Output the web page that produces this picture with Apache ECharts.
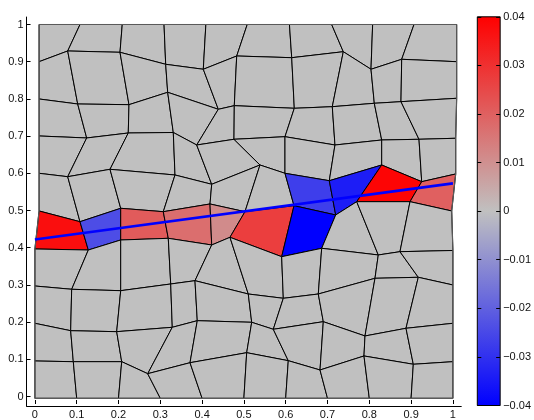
<!DOCTYPE html>
<html><head><meta charset="utf-8">
<script src="https://cdn.jsdelivr.net/npm/echarts@6/dist/echarts.min.js"></script>
<style>html,body{margin:0;padding:0;background:#fff}#c{width:534px;height:420px}</style>
</head><body><div id="c"></div>
<script>
// ---- data ----
const axisTicks = [0, 0.1, 0.2, 0.3, 0.4, 0.5, 0.6, 0.7, 0.8, 0.9, 1];
const colorbarTicks = [-0.04, -0.03, -0.02, -0.01, 0, 0.01, 0.02, 0.03, 0.04];
// mesh node coordinates, rows top -> bottom, columns left -> right
const nodeX = [
 [0.010,0.108,0.209,0.309,0.409,0.508,0.609,0.710,0.808,0.907,1.009],
 [0.010,0.0785,0.2036,0.3129,0.4029,0.4828,0.6144,0.7378,0.8041,0.8775,1.009],
 [0.010,0.1024,0.2251,0.3177,0.4388,0.4770,0.6206,0.7115,0.8120,0.8758,1.009],
 [0.010,0.1239,0.2234,0.3311,0.3871,0.4763,0.5983,0.7179,0.8297,0.9189,1.0067],
 [0.010,0.0785,0.1797,0.3352,0.4230,0.5385,0.5983,0.7043,0.8297,0.9254,1.0067],
 [0.010,0.1079,0.2053,0.3072,0.4189,0.5026,0.6199,0.7196,0.7699,0.8974,0.9971],
 [0,0.1278,0.2053,0.3191,0.4230,0.4667,0.5904,0.6861,0.8215,0.8734,1],
 [0,0.0880,0.2053,0.3249,0.3830,0.5105,0.5943,0.6780,0.8136,0.9172,1],
 [0,0.0856,0.1957,0.3287,0.3885,0.5187,0.5703,0.6900,0.7897,0.8878,1],
 [0,0.0919,0.2077,0.2699,0.3711,0.5067,0.6062,0.6821,0.7873,0.9053,1],
 [0,0.1,0.2,0.3,0.4,0.5,0.6,0.7,0.8,0.9,1]
];
const nodeY = [
 [1,1,1,1,1,1,1,1,1,1,1],
 [0.9005,0.9291,0.9256,0.8935,0.8802,0.9157,0.9112,0.9272,0.8802,0.9069,0.9005],
 [0.8007,0.7873,0.7855,0.8186,0.7731,0.7828,0.7758,0.7801,0.7892,0.7935,0.8026],
 [0.7017,0.6964,0.7097,0.7111,0.6776,0.6929,0.6998,0.6776,0.6910,0.6929,0.6956],
 [0.6019,0.5928,0.6126,0.5974,0.5725,0.6241,0.6019,0.5821,0.6241,0.5795,0.6001],
 [0.5011,0.4724,0.5083,0.4992,0.5198,0.4992,0.5152,0.4904,0.5260,0.5260,0.5011],
 [0.3994,0.3967,0.4235,0.4280,0.4101,0.4307,0.3788,0.4013,0.3834,0.3922,0.3954],
 [0.3004,0.2916,0.2879,0.3058,0.3146,0.2790,0.2675,0.2790,0.3210,0.3237,0.3031],
 [0.2006,0.1808,0.1782,0.1899,0.2076,0.2033,0.1846,0.2049,0.1667,0.1873,0.2006],
 [0.0998,0.0979,0.0979,0.0658,0.0952,0.1220,0.1006,0.0757,0.1132,0.0910,0.0979],
 [0,0,0,0,0,0,0,0,0,0,0]
];
// cell values, rows top -> bottom
const cellValues = [
 [0,0,0,0,0,0,0,0,0,0],
 [0,0,0,0,0,0,0,0,0,0],
 [0,0,0,0,0,0,0,0,0,0],
 [0,0,0,0,0,0,0,0,0,0],
 [0,0,0,0,0,0,-0.027,-0.034,0.039,0.020],
 [0.037,-0.024,0.021,0.017,0.011,0.027,-0.040,0,0,0],
 [0,0,0,0,0,0,0,0,0,0],
 [0,0,0,0,0,0,0,0,0,0],
 [0,0,0,0,0,0,0,0,0,0],
 [0,0,0,0,0,0,0,0,0,0]
];
const lineX = [0, 1];
const lineY = [0.425, 0.575];
const colorMin = -0.04, colorMax = 0.04;
const colorStops = ['#0000ff', '#c0c0c0', '#ff0000'];

// ---- build ----
const cells = [];
for (let j = 0; j < cellValues.length; j++)
  for (let i = 0; i < cellValues[j].length; i++) cells.push([i, j, cellValues[j][i]]);

const nR = nodeX.length, nC = nodeX[0].length;
const boundary = [];
for (let c = 0; c < nC; c++) boundary.push([nodeX[0][c], nodeY[0][c]]);
for (let r = 1; r < nR; r++) boundary.push([nodeX[r][nC-1], nodeY[r][nC-1]]);
for (let c = nC - 2; c >= 0; c--) boundary.push([nodeX[nR-1][c], nodeY[nR-1][c]]);
for (let r = nR - 2; r >= 0; r--) boundary.push([nodeX[r][0], nodeY[r][0]]);

const font = {fontFamily: 'Liberation Sans, Arial, sans-serif', fontSize: 11, color: '#111'};
const fmtAxis = v => String(+v.toFixed(1));
const fmtCb = v => Math.abs(v) < 1e-9 ? '0' : (v < 0 ? '\u2212' : '') + Math.abs(v).toFixed(2);

const chart = echarts.init(document.getElementById('c'), null, {renderer: 'canvas'});
chart.setOption({
  animation: false,
  grid: [
    {left: 26.54, top: 17.02, width: 434.72, height: 388.75},
    {left: 34.9, top: 24.5, width: 418, height: 373.8},
    {left: 477.3, top: 16.8, width: 24, height: 388.7}
  ],
  xAxis: [
    {gridIndex: 0, type: 'value', min: -0.02, max: 1.02, axisLine: {show: true, onZero: false, lineStyle: {color: '#000', width: 1}},
     axisTick: {show: false}, axisLabel: {show: false}, splitLine: {show: false}},
    {gridIndex: 1, type: 'value', min: 0, max: 1, interval: 0.1, offset: 7.47,
     axisLine: {show: false, onZero: false}, axisTick: {show: true, inside: true, length: 4, lineStyle: {color: '#000'}},
     axisLabel: Object.assign({margin: 5, formatter: fmtAxis}, font), splitLine: {show: false}},
    {gridIndex: 2, type: 'value', min: 0, max: 1, show: false}
  ],
  yAxis: [
    {gridIndex: 0, type: 'value', min: -0.02, max: 1.02, axisLine: {show: true, onZero: false, lineStyle: {color: '#000', width: 1}},
     axisTick: {show: false}, axisLabel: {show: false}, splitLine: {show: false}},
    {gridIndex: 1, type: 'value', min: 0, max: 1, interval: 0.1, offset: 8.36,
     axisLine: {show: false, onZero: false}, axisTick: {show: true, inside: true, length: 4, lineStyle: {color: '#000'}},
     axisLabel: Object.assign({margin: 3, formatter: fmtAxis}, font), splitLine: {show: false}},
    {gridIndex: 2, type: 'value', position: 'left', min: colorMin, max: colorMax, interval: 0.01, z: 10,
     axisLine: {show: false}, axisTick: {show: true, inside: true, length: 4, lineStyle: {color: '#000'}},
     axisLabel: {show: false}, splitLine: {show: false}},
    {gridIndex: 2, type: 'value', position: 'right', min: colorMin, max: colorMax, interval: 0.01, z: 10,
     axisLine: {show: false}, axisTick: {show: true, inside: true, length: 4, lineStyle: {color: '#000'}},
     axisLabel: Object.assign({margin: 3, formatter: fmtCb}, font), splitLine: {show: false}}
  ],
  visualMap: {
    type: 'continuous', show: false, min: colorMin, max: colorMax, dimension: 2, seriesIndex: 0,
    inRange: {color: colorStops}
  },
  series: [
    {
      type: 'custom', xAxisIndex: 0, yAxisIndex: 0, data: cells, z: 2,
      renderItem: function (params, api) {
        const i = api.value(0), j = api.value(1);
        const pts = [[j, i], [j, i + 1], [j + 1, i + 1], [j + 1, i]]
          .map(rc => api.coord([nodeX[rc[0]][rc[1]], nodeY[rc[0]][rc[1]]]));
        return {type: 'polygon', shape: {points: pts},
          style: {fill: api.visual('color'), stroke: '#000', lineWidth: 1, lineJoin: 'miter'}};
      }
    },
    {
      type: 'line', xAxisIndex: 0, yAxisIndex: 0, data: boundary, symbol: 'none', z: 3,
      lineStyle: {color: '#5a5a5a', width: 1.2}, silent: true
    },
    {
      type: 'line', xAxisIndex: 0, yAxisIndex: 0, data: lineX.map((x, k) => [x, lineY[k]]), symbol: 'none', z: 4,
      lineStyle: {color: '#0000ff', width: 2.6}, silent: true
    },
    {
      type: 'custom', xAxisIndex: 2, yAxisIndex: 2, data: [[0, colorMin]], z: 2,
      renderItem: function (params, api) {
        const tl = api.coord([0, colorMax]), br = api.coord([1, colorMin]);
        const stops = colorStops.slice().reverse().map((c, k, a) => ({offset: k / (a.length - 1), color: c}));
        return {type: 'rect', shape: {x: tl[0], y: tl[1], width: br[0] - tl[0], height: br[1] - tl[1]},
          style: {fill: new echarts.graphic.LinearGradient(0, 0, 0, 1, stops), stroke: '#000', lineWidth: 1}};
      }
    }
  ]
});
</script>
</body></html>
